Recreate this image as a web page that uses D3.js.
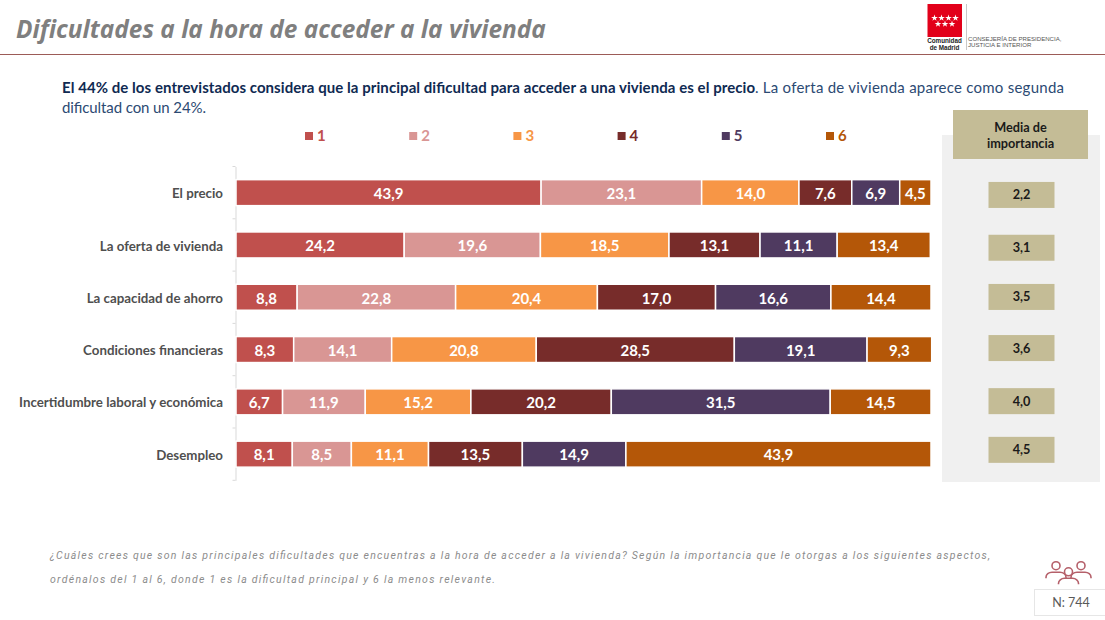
<!DOCTYPE html>
<html lang="es">
<head>
<meta charset="utf-8">
<title>Dificultades a la hora de acceder a la vivienda</title>
<script src="https://cdn.jsdelivr.net/npm/d3@7"></script>
<style>
  html, body { margin: 0; padding: 0; background: #fff; }
  svg { display: block; font-family: Lato, "Open Sans", sans-serif; }
  .axis-y .domain { stroke: #d9d9d9; }
  .axis-y text { font-size: 13.3px; font-weight: 700; fill: #4f4f4f; font-family: Lato, sans-serif; }
</style>
</head>
<body>
<svg id="chart" width="1105" height="620"></svg>
<script>
const categories = [
  "El precio",
  "La oferta de vivienda",
  "La capacidad de ahorro",
  "Condiciones financieras",
  "Incertidumbre laboral y económica",
  "Desempleo"
];
const ranks = ["1", "2", "3", "4", "5", "6"];
const rank1 = [43.9, 24.2, 8.8, 8.3, 6.7, 8.1];
const rank2 = [23.1, 19.6, 22.8, 14.1, 11.9, 8.5];
const rank3 = [14.0, 18.5, 20.4, 20.8, 15.2, 11.1];
const rank4 = [7.6, 13.1, 17.0, 28.5, 20.2, 13.5];
const rank5 = [6.9, 11.1, 16.6, 19.1, 31.5, 14.9];
const rank6 = [4.5, 13.4, 14.4, 9.3, 14.5, 43.9];
const media = [2.2, 3.1, 3.5, 3.6, 4.0, 4.5];
const colors = ["#c0504d", "#d99694", "#f79646", "#772c2a", "#4f3a60", "#b45708"];

const series = [rank1, rank2, rank3, rank4, rank5, rank6];
const comma = v => v.toFixed(1).replace(".", ",");

const svg = d3.select("#chart");

// Header
svg.append("text")
  .attr("x", 16).attr("y", 38)
  .attr("font-family", "'Open Sans', sans-serif")
  .attr("font-size", 24.4).attr("font-weight", 700).attr("font-style", "italic")
  .attr("fill", "#7f7f7f")
  .text("Dificultades a la hora de acceder a la vivienda");

svg.append("line")
  .attr("x1", 0).attr("x2", 1105).attr("y1", 54.5).attr("y2", 54.5)
  .attr("stroke", "#9c5b57").attr("stroke-width", 1);

// Logo
const logo = svg.append("g").attr("class", "logo");
logo.append("rect").attr("x", 927.5).attr("y", 4).attr("width", 34.5).attr("height", 33).attr("fill", "#e2001a");
const star = d3.symbol().type(d3.symbolStar).size(14);
[[934.5, 18], [941.5, 18], [948.5, 18], [955.5, 18], [938, 24], [945, 24], [952, 24]].forEach(p => {
  logo.append("path").attr("d", star).attr("fill", "#fff").attr("transform", `translate(${p[0]},${p[1]})`);
});
logo.append("text").attr("x", 944.5).attr("y", 43.4).attr("text-anchor", "middle")
  .attr("font-family", "'Liberation Sans', sans-serif")
  .attr("font-size", 6.3).attr("font-weight", 700).attr("fill", "#222").text("Comunidad");
logo.append("text").attr("x", 944.5).attr("y", 50.4).attr("text-anchor", "middle")
  .attr("font-family", "'Liberation Sans', sans-serif")
  .attr("font-size", 6.3).attr("font-weight", 700).attr("fill", "#222").text("de Madrid");
logo.append("line").attr("x1", 966.5).attr("x2", 966.5).attr("y1", 4).attr("y2", 50).attr("stroke", "#c8c8c8");
logo.append("text").attr("x", 968).attr("y", 41)
  .attr("font-family", "'Liberation Sans', sans-serif")
  .attr("font-size", 6.1).attr("fill", "#555").text("CONSEJERÍA DE PRESIDENCIA,");
logo.append("text").attr("x", 968).attr("y", 47.4)
  .attr("font-family", "'Liberation Sans', sans-serif")
  .attr("font-size", 6.1).attr("fill", "#555").text("JUSTICIA E INTERIOR");

// Intro text, first line is justified so both parts get a fixed run
svg.append("text")
  .attr("x", 62).attr("y", 93)
  .attr("font-size", 15).attr("font-weight", 700).attr("fill", "#0f2a52")
  .attr("textLength", 693).attr("lengthAdjust", "spacing")
  .text("El 44% de los entrevistados considera que la principal dificultad para acceder a una vivienda es el precio");
svg.append("text")
  .attr("x", 755).attr("y", 93)
  .attr("font-size", 15).attr("fill", "#2c4a73")
  .attr("textLength", 309).attr("lengthAdjust", "spacing")
  .text(". La oferta de vivienda aparece como segunda");
svg.append("text")
  .attr("x", 62).attr("y", 113)
  .attr("font-size", 15).attr("fill", "#2c4a73")
  .attr("textLength", 144).attr("lengthAdjust", "spacing")
  .text("dificultad con un 24%.");

// Side panel behind the means
svg.append("rect").attr("x", 942).attr("y", 135).attr("width", 158).attr("height", 347).attr("fill", "#f0f0f0");
svg.append("rect").attr("x", 953).attr("y", 110).attr("width", 135).attr("height", 49).attr("fill", "#c4bc96");
svg.append("text").attr("x", 1020.5).attr("y", 132).attr("text-anchor", "middle")
  .attr("font-size", 12.7).attr("font-weight", 700).attr("fill", "#1a1a1a").text("Media de");
svg.append("text").attr("x", 1020.5).attr("y", 147.5).attr("text-anchor", "middle")
  .attr("font-size", 12.7).attr("font-weight", 700).attr("fill", "#1a1a1a").text("importancia");

// Scales
const x = d3.scaleLinear().domain([0, 100]).range([236, 931]);
const y = d3.scaleBand().domain(categories).range([166.5, 480.3]);
const barHeight = 26;

// Legend
const legendX = d3.scalePoint().domain(ranks).range([305, 826]);
const legend = svg.append("g").attr("class", "legend");
ranks.forEach((r, i) => {
  legend.append("rect")
    .attr("x", legendX(r)).attr("y", 132).attr("width", 8).attr("height", 8)
    .attr("fill", colors[i]);
  legend.append("text")
    .attr("x", legendX(r) + 12).attr("y", 141)
    .attr("font-size", 15).attr("font-weight", 700)
    .attr("fill", colors[i]).text(r);
});

// Axis
const axisG = svg.append("g").attr("class", "axis-y")
  .attr("transform", `translate(235.5,0)`)
  .call(d3.axisLeft(y).tickSize(0).tickPadding(12.5));
axisG.selectAll("text").attr("dy", "0.42em");
axisG.selectAll(".edge").data(categories.map(c => y(c)).concat([y.range()[1]]))
  .enter().append("line").attr("class", "edge")
  .attr("x1", -3).attr("x2", 0)
  .attr("y1", d => d).attr("y2", d => d)
  .attr("stroke", "#d9d9d9");

// Stacked bars
const rows = categories.map((c, i) => {
  const row = { category: c };
  ranks.forEach((r, j) => { row[r] = series[j][i]; });
  return row;
});
const stacked = d3.stack().keys(ranks)(rows);

const layers = svg.selectAll(".layer").data(stacked).enter().append("g")
  .attr("class", "layer")
  .attr("fill", (d, i) => colors[i]);

layers.selectAll("rect").data(d => d).enter().append("rect")
  .attr("x", d => x(d[0]))
  .attr("y", d => y(d.data.category) + (y.bandwidth() - barHeight) / 2)
  .attr("width", d => x(d[1]) - x(d[0]))
  .attr("height", barHeight)
  .attr("stroke", "#fff").attr("stroke-width", 1.5);

layers.selectAll("text").data(d => d).enter().append("text")
  .attr("x", d => (x(d[0]) + x(d[1])) / 2)
  .attr("y", d => y(d.data.category) + y.bandwidth() / 2 + 6.3)
  .attr("text-anchor", "middle")
  .attr("font-size", 15).attr("font-weight", 700).attr("fill", "#fff")
  .text(d => comma(d[1] - d[0]));

// Means, the boxes in the slide are not quite level with their bars
const meanNudge = [2.3, 2.8, -0.3, -1.5, -0.7, -4.3];
const means = svg.selectAll(".mean").data(media).enter().append("g").attr("class", "mean");
means.append("rect")
  .attr("x", 988.5).attr("width", 66).attr("height", 26)
  .attr("y", (d, i) => y(categories[i]) + y.bandwidth() / 2 - 13 + meanNudge[i])
  .attr("fill", "#c4bc96");
means.append("text")
  .attr("x", 1021.5).attr("text-anchor", "middle")
  .attr("y", (d, i) => y(categories[i]) + y.bandwidth() / 2 + 4.5 + meanNudge[i])
  .attr("font-size", 12.7).attr("font-weight", 700).attr("fill", "#1a1a1a")
  .text(d => comma(d));

// Footnote
const noteLines = [
  ["¿Cuáles crees que son las principales dificultades que encuentras a la hora de acceder a la vivienda? Según la importancia que le otorgas a los siguientes aspectos,", 940],
  ["ordénalos del 1 al 6, donde 1 es la dificultad principal y 6 la menos relevante.", 445]
];
noteLines.forEach((l, i) => {
  svg.append("text")
    .attr("x", 50).attr("y", 559 + i * 24)
    .attr("font-family", "Roboto, sans-serif")
    .attr("font-size", 10.5).attr("font-style", "italic").attr("fill", "#8c8c8c")
    .attr("textLength", l[1]).attr("lengthAdjust", "spacing")
    .text(l[0]);
});

// People icon and sample size
const icon = svg.append("g").attr("fill", "none").attr("stroke", "#b5606a").attr("stroke-width", 1.6);
[[1056, 565.7], [1081, 565.7], [1068.5, 571.8]].forEach(p => {
  icon.append("circle").attr("cx", p[0]).attr("cy", p[1]).attr("r", 4);
  icon.append("path").attr("d", `M${p[0] - 10},${p[1] + 12.5}v-1a6,5 0 0 1 6,-5h8a6,5 0 0 1 6,5v1`);
});
svg.append("rect").attr("x", 1034.5).attr("y", 589.5).attr("width", 72).attr("height", 26)
  .attr("fill", "#fff").attr("stroke", "#e6e6e6");
svg.append("text").attr("x", 1071).attr("y", 607).attr("text-anchor", "middle")
  .attr("font-size", 12.5).attr("fill", "#595959").text("N: 744");
</script>
</body>
</html>
